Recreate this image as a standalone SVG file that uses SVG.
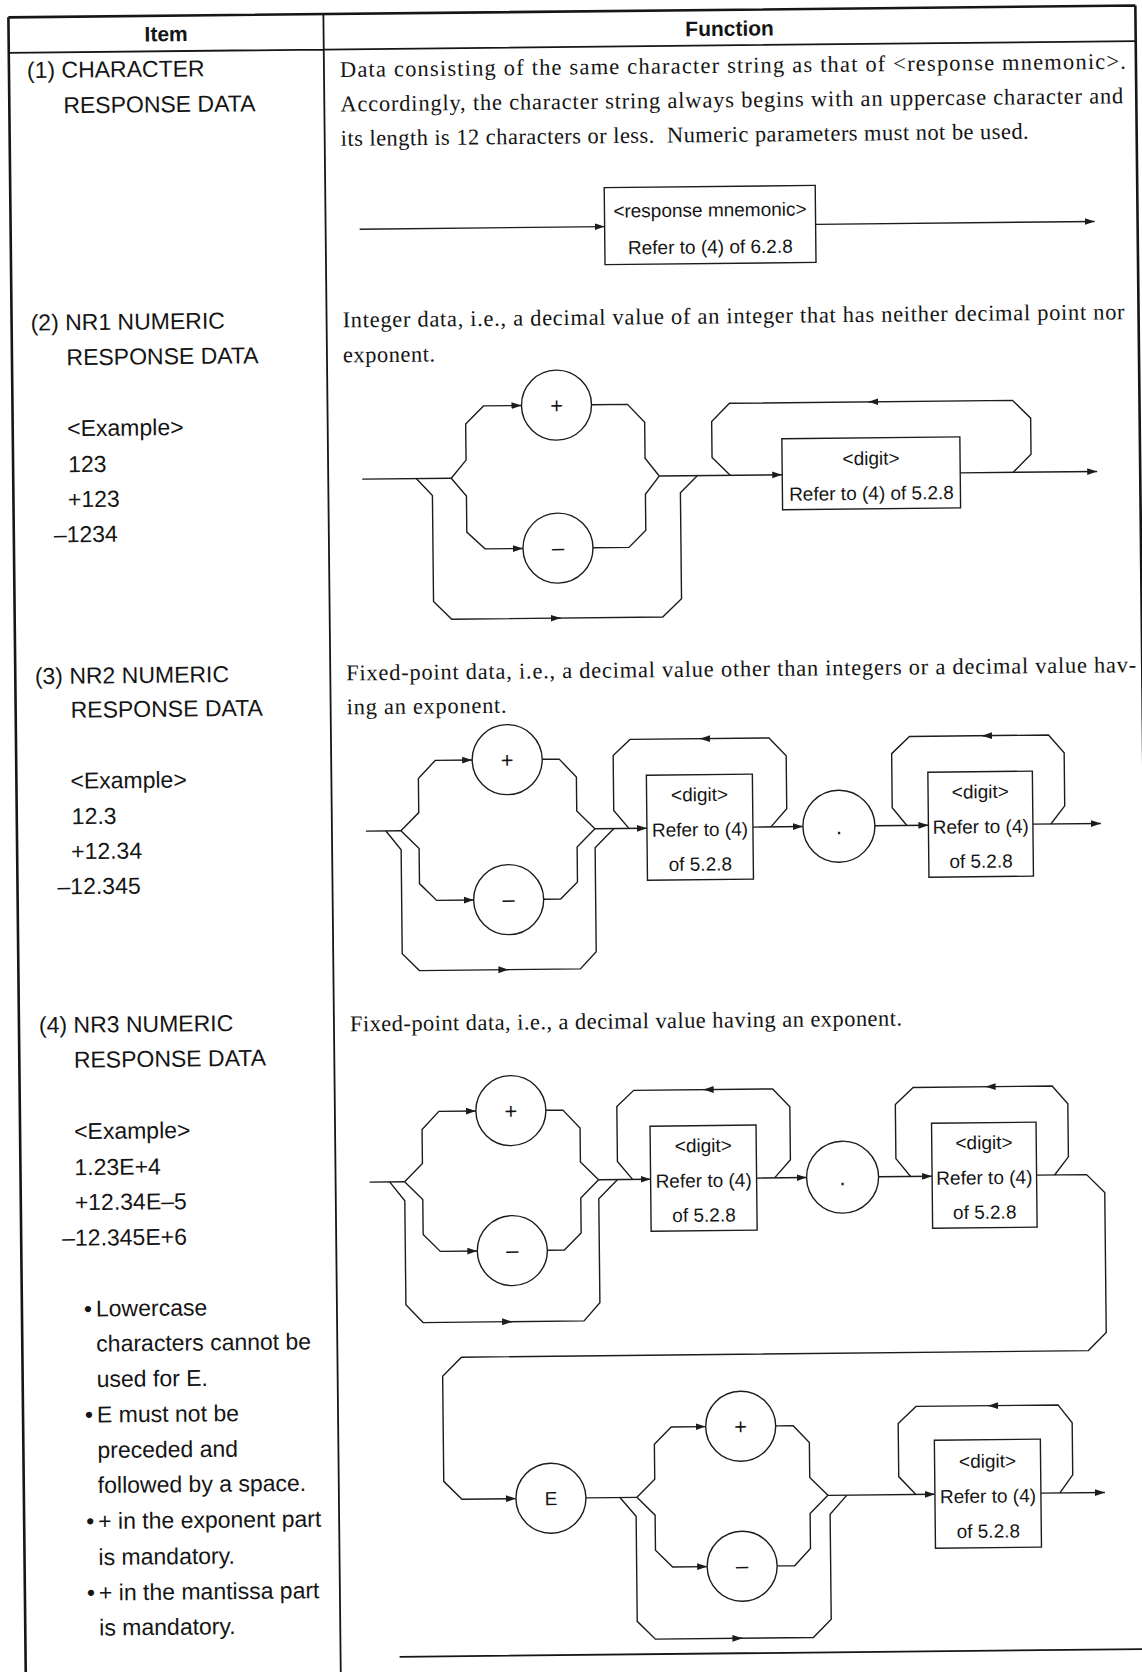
<svg xmlns="http://www.w3.org/2000/svg" width="1142" height="1672" viewBox="0 0 1142 1672">
<defs>
<style>
.tb{fill:none;stroke:#161616;stroke-width:2.6}
.tl{fill:none;stroke:#161616;stroke-width:1.8}
.ln{fill:none;stroke:#1c1c1c;stroke-width:1.4;stroke-linejoin:miter}
.ar{fill:none;stroke:#1c1c1c;stroke-width:1.4;marker-end:url(#ah)}
.bx{fill:#fff;stroke:#1c1c1c;stroke-width:1.4}
.ci{fill:#fff;stroke:#1c1c1c;stroke-width:1.4}
.lb{font-family:"Liberation Sans",Arial,sans-serif;font-size:19px;fill:#151515;text-anchor:middle}
.cl{font-family:"Liberation Sans",Arial,sans-serif;font-size:22px;fill:#151515;text-anchor:middle}
.it{font-family:"Liberation Sans",Arial,sans-serif;font-size:23px;fill:#151515}
.ds{font-family:"Liberation Serif","Times New Roman",serif;font-size:22.5px;fill:#151515}
.hd{font-family:"Liberation Sans",Arial,sans-serif;font-size:21px;font-weight:bold;fill:#151515;text-anchor:middle}
</style>
<marker id="ah" viewBox="0 0 10 8" refX="10" refY="4" markerWidth="10" markerHeight="8" markerUnits="userSpaceOnUse" orient="auto">
<path d="M0,0.6 L10,4 L0,7.4 z" fill="#1c1c1c"/>
</marker>
</defs>
<rect width="1142" height="1672" fill="#fff"/>
<g transform="rotate(-0.6 571 836)">
<g id="table">
<path class="tb" d="M17,11.5 H1144 M17,11.5 V1700 M1144,11.5 V1700"/>
<path class="tl" d="M17,47 H1144 M332,11.5 V1700 M391,1655 H1144"/>
</g>
<g id="header">
<text class="hd" x="174.5" y="37">Item</text>
<text class="hd" x="738" y="37.5">Function</text>
</g>
<g id="items">
<text class="it" x="35" y="72.5">(1) CHARACTER</text>
<text class="it" x="71" y="108">RESPONSE DATA</text>
<text class="it" x="36" y="325">(2) NR1 NUMERIC</text>
<text class="it" x="71.5" y="360">RESPONSE DATA</text>
<text class="it" x="71.5" y="431">&lt;Example&gt;</text>
<text class="it" x="72" y="467">123</text>
<text class="it" x="71.5" y="502">+123</text>
<text class="it" x="57" y="537">–1234</text>
<text class="it" x="36.5" y="678.5">(3) NR2 NUMERIC</text>
<text class="it" x="72" y="712.5">RESPONSE DATA</text>
<text class="it" x="71" y="783.5">&lt;Example&gt;</text>
<text class="it" x="72" y="819">12.3</text>
<text class="it" x="71" y="854">+12.34</text>
<text class="it" x="57" y="889">–12.345</text>
<text class="it" x="37" y="1027.5">(4) NR3 NUMERIC</text>
<text class="it" x="71.5" y="1062.5">RESPONSE DATA</text>
<text class="it" x="71" y="1134">&lt;Example&gt;</text>
<text class="it" x="71" y="1170">1.23E+4</text>
<text class="it" x="71" y="1205">+12.34E–5</text>
<text class="it" x="58" y="1240.5">–12.345E+6</text>
<text class="it" x="79" y="1311.5">•</text>
<text class="it" x="91" y="1311.5">Lowercase</text>
<text class="it" x="91" y="1346.5">characters cannot be</text>
<text class="it" x="91" y="1382">used for E.</text>
<text class="it" x="79" y="1417.5">•</text>
<text class="it" x="91" y="1417.5">E must not be</text>
<text class="it" x="91" y="1453">preceded and</text>
<text class="it" x="91" y="1488">followed by a space.</text>
<text class="it" x="79" y="1524">•</text>
<text class="it" x="91" y="1524">+ in the exponent part</text>
<text class="it" x="91" y="1560">is mandatory.</text>
<text class="it" x="79" y="1595.5">•</text>
<text class="it" x="91" y="1595.5">+ in the mantissa part</text>
<text class="it" x="91" y="1630.5">is mandatory.</text>
</g>
<g id="descriptions">
<text class="ds" x="348" y="74.5" textLength="786" lengthAdjust="spacing">Data consisting of the same character string as that of &lt;response mnemonic&gt;.</text>
<text class="ds" x="348" y="109" textLength="783" lengthAdjust="spacing">Accordingly, the character string always begins with an uppercase character and</text>
<text class="ds" x="348" y="143.5" textLength="688" lengthAdjust="spacing" xml:space="preserve">its length is 12 characters or less.  Numeric parameters must not be used.</text>
<text class="ds" x="348" y="325" textLength="782" lengthAdjust="spacing">Integer data, i.e., a decimal value of an integer that has neither decimal point nor</text>
<text class="ds" x="348" y="360" textLength="92" lengthAdjust="spacing">exponent.</text>
<text class="ds" x="348" y="678" textLength="790" lengthAdjust="spacing">Fixed-point data, i.e., a decimal value other than integers or a decimal value hav-</text>
<text class="ds" x="348" y="712" textLength="160" lengthAdjust="spacing">ing an exponent.</text>
<text class="ds" x="348" y="1029" textLength="552" lengthAdjust="spacing">Fixed-point data, i.e., a decimal value having an exponent.</text>
</g>
<g id="connectors">
<path class="ar" d="M366,227 H611"/>
<path class="ar" d="M822,227 H1101"/>
<path class="ln" d="M366,477 H455"/>
<path class="ln" d="M420,477 L436,494 V600 L454,618 H665 L684,600 V494 L701,477"/>
<path class="ar" d="M556,618 H563"/>
<path class="ar" d="M455,477 L470,459 V423 L488,405 H526"/>
<path class="ln" d="M596,405 H632 L649,423 V459 L663,477"/>
<path class="ar" d="M455,477 L470,495 V531 L488,548 H526"/>
<path class="ln" d="M596,548 H632 L649,531 V495 L663,477"/>
<path class="ar" d="M663,477 H786"/>
<path class="ln" d="M734,477 L716,459 V423 L734,405 H1017 L1035,423 V459 L1017,477"/>
<path class="ar" d="M881,405 H873"/>
<path class="ar" d="M964,477 H1101"/>
<path class="ln" d="M366,829 H401"/>
<path class="ln" d="M386,829 L401,848 V952 L418,969 H579 L595,952 V848 L614,829"/>
<path class="ar" d="M499,969 H507"/>
<path class="ar" d="M401,829 L419,811 V777 L436,759 H473"/>
<path class="ln" d="M543,759 H560 L577,777 V811 L595,829"/>
<path class="ar" d="M401,829 L419,847 V882 L436,899 H473"/>
<path class="ln" d="M543,899 H560 L577,882 V847 L595,829"/>
<path class="ar" d="M595,829 H647"/>
<path class="ln" d="M629,829 L614,811 V756 L631,740 H770 L787,758 V811 L771,829"/>
<path class="ar" d="M709,740 H701"/>
<path class="ar" d="M753,829 H803"/>
<path class="ar" d="M875,829 H928.5"/>
<path class="ln" d="M907,829 L892.5,811 V757 L910.5,740 H1049.5 L1065,758 V811 L1051,829"/>
<path class="ar" d="M991,740 H983"/>
<path class="ar" d="M1033,829 H1101"/>
<path class="ln" d="M366,1180 H401"/>
<path class="ln" d="M386,1180 L401,1199 V1303 L418,1321 H579 L595,1303 V1199 L614,1180"/>
<path class="ar" d="M499,1321 H507"/>
<path class="ar" d="M401,1180 L419,1162 V1128 L436,1110 H473"/>
<path class="ln" d="M543,1110 H560 L577,1128 V1162 L595,1180"/>
<path class="ar" d="M401,1180 L419,1198 V1233 L436,1250 H473"/>
<path class="ln" d="M543,1250 H560 L577,1233 V1198 L595,1180"/>
<path class="ar" d="M595,1180 H647"/>
<path class="ln" d="M629,1180 L614,1162 V1107 L631,1091 H770 L787,1109 V1162 L771,1180"/>
<path class="ar" d="M709,1091 H701"/>
<path class="ar" d="M753,1180 H803"/>
<path class="ar" d="M875,1180 H928.5"/>
<path class="ln" d="M907,1180 L892.5,1162 V1108 L910.5,1091 H1049.5 L1065,1109 V1162 L1051,1180"/>
<path class="ar" d="M991,1091 H983"/>
<path class="ar" d="M1033,1180 H1083 L1101,1198 V1338 L1083,1356 H456 L437,1375 V1480 L455,1498 H509"/>
<path class="ln" d="M579,1498 H630"/>
<path class="ln" d="M613,1498 L629,1517 V1622 L647,1640 H805 L823,1622 V1517 L840,1498"/>
<path class="ar" d="M726,1640 H734"/>
<path class="ar" d="M630,1498 L648,1480 V1445 L665,1428 H699.5"/>
<path class="ln" d="M769.5,1428 H787 L803,1445 V1480 L821,1498"/>
<path class="ar" d="M630,1498 L648,1516 V1551 L665,1568 H699.5"/>
<path class="ln" d="M769.5,1568 H787 L803,1551 V1516 L821,1498"/>
<path class="ar" d="M821,1498 H928"/>
<path class="ln" d="M909,1498 L892,1480 V1427 L910,1410 H1052 L1066,1428 V1480 L1053,1498"/>
<path class="ar" d="M990,1410 H982"/>
<path class="ar" d="M1034,1498 H1098"/>
</g>
<g id="r1-box"><rect class="bx" x="611" y="188" width="211" height="77"/><text class="lb" x="716.5" y="218">&lt;response mnemonic&gt;</text><text class="lb" x="716.5" y="255">Refer to (4) of 6.2.8</text></g>
<g id="r2-plus"><circle class="ci" cx="561" cy="405" r="35"/><text class="cl" x="561" y="413">+</text></g>
<g id="r2-minus"><circle class="ci" cx="561" cy="548" r="35"/><text class="cl" x="561" y="555">–</text></g>
<g id="r2-digit"><rect class="bx" x="786" y="441" width="178" height="71"/><text class="lb" x="875" y="468">&lt;digit&gt;</text><text class="lb" x="875" y="503">Refer to (4) of 5.2.8</text></g>
<g id="r3-plus"><circle class="ci" cx="508" cy="759" r="35"/><text class="cl" x="508" y="767">+</text></g>
<g id="r3-minus"><circle class="ci" cx="508" cy="899" r="35"/><text class="cl" x="508" y="906">–</text></g>
<g id="r3-digit1"><rect class="bx" x="647" y="776" width="106" height="105"/><text class="lb" x="700" y="802.5">&lt;digit&gt;</text><text class="lb" x="700" y="837.5">Refer to (4)</text><text class="lb" x="700" y="872">of 5.2.8</text></g>
<g id="r3-point"><circle class="ci" cx="839" cy="829" r="36"/><text class="cl" x="839" y="837">.</text></g>
<g id="r3-digit2"><rect class="bx" x="928.5" y="776" width="104.5" height="105"/><text class="lb" x="980.75" y="802.5">&lt;digit&gt;</text><text class="lb" x="980.75" y="837.5">Refer to (4)</text><text class="lb" x="980.75" y="872">of 5.2.8</text></g>
<g id="r4-plus"><circle class="ci" cx="508" cy="1110" r="35"/><text class="cl" x="508" y="1118">+</text></g>
<g id="r4-minus"><circle class="ci" cx="508" cy="1250" r="35"/><text class="cl" x="508" y="1257">–</text></g>
<g id="r4-digit1"><rect class="bx" x="647" y="1127" width="106" height="105"/><text class="lb" x="700" y="1153.5">&lt;digit&gt;</text><text class="lb" x="700" y="1188.5">Refer to (4)</text><text class="lb" x="700" y="1223">of 5.2.8</text></g>
<g id="r4-point"><circle class="ci" cx="839" cy="1180" r="36"/><text class="cl" x="839" y="1188">.</text></g>
<g id="r4-digit2"><rect class="bx" x="928.5" y="1127" width="104.5" height="105"/><text class="lb" x="980.75" y="1153.5">&lt;digit&gt;</text><text class="lb" x="980.75" y="1188.5">Refer to (4)</text><text class="lb" x="980.75" y="1223">of 5.2.8</text></g>
<g id="r4-E"><circle class="ci" cx="544" cy="1498" r="35"/><text class="lb" x="544" y="1505">E</text></g>
<g id="r4-exp-plus"><circle class="ci" cx="734.5" cy="1428" r="35"/><text class="cl" x="734.5" y="1436">+</text></g>
<g id="r4-exp-minus"><circle class="ci" cx="734.5" cy="1568" r="35"/><text class="cl" x="734.5" y="1575">–</text></g>
<g id="r4-digit3"><rect class="bx" x="928" y="1444" width="106" height="108"/><text class="lb" x="981" y="1472">&lt;digit&gt;</text><text class="lb" x="981" y="1507">Refer to (4)</text><text class="lb" x="981" y="1542">of 5.2.8</text></g>
</g>
</svg>
